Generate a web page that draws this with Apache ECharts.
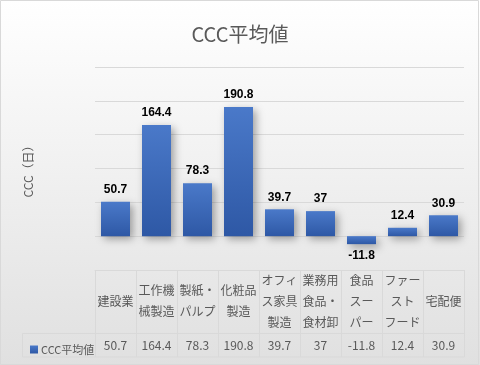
<!DOCTYPE html>
<html>
<head>
<meta charset="utf-8">
<script src="https://cdn.jsdelivr.net/npm/echarts@6/dist/echarts.min.js"></script>
<style>html,body{margin:0;padding:0;background:#fff}#c{width:480px;height:365px}</style>
</head>
<body>
<div id="c"></div>
<script>
const categories = ['建設業', '工作機\n械製造', '製紙・\nパルプ', '化粧品\n製造', 'オフィ\nス家具\n製造', '業務用\n食品・\n食材卸', '食品\nスー\nパー', 'ファー\nスト\nフード', '宅配便'];
const values = [50.7, 164.4, 78.3, 190.8, 39.7, 37, -11.8, 12.4, 30.9];
const seriesName = 'CCC平均値';
const titleText = 'CCC平均値';
const yAxisTitle = 'CCC（日）';

const FONT = '"Noto Sans CJK JP", "Noto Sans", sans-serif';
const chart = echarts.init(document.getElementById('c'), null, {renderer: 'canvas'});

const barData = values.map(v => ({
  value: v,
  label: {position: v < 0 ? 'bottom' : 'top'}
}));

chart.setOption({
  animation: false,
  backgroundColor: new echarts.graphic.LinearGradient(0, 0, 0, 1, [
    {offset: 0, color: '#ffffff'},
    {offset: 1, color: '#e0e0e0'}
  ]),
  title: {
    text: titleText,
    left: 'center',
    top: 19,
    textStyle: {fontFamily: FONT, fontSize: 20, fontWeight: 'normal', color: '#595959'}
  },
  legend: {
    data: [seriesName],
    left: 25,
    top: 339,
    icon: 'rect',
    itemWidth: 8,
    itemHeight: 8,
    itemGap: 4,
    textStyle: {fontFamily: FONT, fontSize: 11, color: '#595959', padding: [0, 0, 0, -2]}
  },
  grid: {left: 95, right: 16, top: 67, bottom: 95, containLabel: false},
  xAxis: [
    {
      type: 'category',
      data: categories,
      position: 'bottom',
      axisLine: {show: true, onZero: false, lineStyle: {color: '#d9d9d9'}},
      axisTick: {show: true, length: 87, interval: 0, lineStyle: {color: '#d9d9d9'}},
      axisLabel: {
        interval: 0, margin: 31, verticalAlign: 'middle',
        fontFamily: FONT, fontSize: 12, lineHeight: 21, color: '#595959'
      },
      splitLine: {show: false}
    },
    {
      type: 'category',
      data: categories,
      position: 'bottom',
      offset: 64,
      axisLine: {show: false},
      axisTick: {show: false},
      axisLabel: {
        interval: 0, margin: 11, verticalAlign: 'middle',
        fontFamily: FONT, fontSize: 12, color: '#595959',
        formatter: (v, i) => String(values[i])
      }
    }
  ],
  yAxis: {
    type: 'value',
    min: -50,
    max: 250,
    interval: 50,
    name: yAxisTitle,
    nameLocation: 'middle',
    nameGap: 61,
    nameTextStyle: {fontFamily: FONT, fontSize: 12, color: '#595959'},
    axisLabel: {show: false},
    axisLine: {show: false},
    axisTick: {show: false},
    splitLine: {lineStyle: {color: '#d9d9d9'}}
  },
  graphic: [
    {
      type: 'rect',
      shape: {x: 22.5, y: 333.5, width: 442, height: 23.5},
      style: {fill: null, stroke: '#d9d9d9', lineWidth: 1},
      z: 10
    },
    {
      type: 'rect',
      shape: {x: 0.5, y: 0.5, width: 478, height: 364},
      style: {fill: null, stroke: '#d9d9d9', lineWidth: 1},
      z: 10
    }
  ],
  series: [{
    name: seriesName,
    type: 'bar',
    xAxisIndex: 0,
    data: barData,
    barWidth: 29,
    itemStyle: {
      color: new echarts.graphic.LinearGradient(0, 0, 0, 1, [
        {offset: 0, color: '#4a79c9'},
        {offset: 1, color: '#2e58a5'}
      ]),
      shadowColor: 'rgba(0,0,0,0.35)',
      shadowBlur: 8,
      shadowOffsetX: 3,
      shadowOffsetY: 3
    },
    label: {
      show: true,
      fontFamily: '"Liberation Sans", Arial, sans-serif',
      fontSize: 12,
      fontWeight: 'bold',
      color: '#000',
      distance: 6
    }
  }]
});
</script>
</body>
</html>
